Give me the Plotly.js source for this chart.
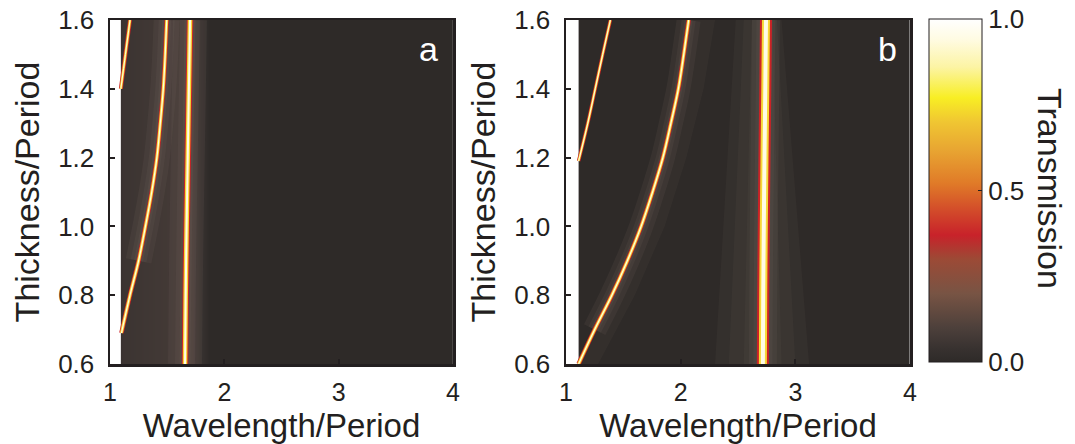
<!DOCTYPE html>
<html><head><meta charset="utf-8">
<script src="https://cdn.plot.ly/plotly-3.0.1.min.js"></script>
<style>html,body{margin:0;padding:0;background:#fff}</style>
</head><body><div id="chart" style="width:1075px;height:444px"></div>
<script>
// ---- Data ----
const xTicks = [1, 2, 3, 4];
const yTicks = [0.6, 0.8, 1.0, 1.2, 1.4, 1.6];
const cbTicks = [0, 0.5, 1.0];
const cbTickText = ['0.0', '0.5', '1.0'];

// Background transmission level (wavelength samples; the white strip at left is outside the data)
const aBgWave = [1.10, 1.11, 1.50, 1.72, 1.87, 4.0];
const aBgT = [[0.045, 0.050, 0.070, 0.085, 0.0, 0.0],   // thickness 0.6
              [0.045, 0.050, 0.070, 0.080, 0.0, 0.0]];  // thickness 1.6
const bgThick = [0.6, 1.6];
const bBgWaveEdges = [1.11, 4.0];
const bBgThickEdges = [0.6, 1.6];
const bBgT = [[0.0]];

// Panel a resonance curves: thickness/period -> wavelength/period
const a1_t = [1.40, 1.50, 1.60];
const a1_w = [1.095, 1.135, 1.175];
const a2_t = [0.69, 0.80, 0.90, 1.00, 1.10, 1.20, 1.30, 1.40, 1.50, 1.60];
const a2_w = [1.10, 1.175, 1.25, 1.31, 1.365, 1.41, 1.44, 1.466, 1.483, 1.496];
const a3_t = [0.60, 0.80, 1.00, 1.20, 1.40, 1.60];
const a3_w = [1.656, 1.662, 1.670, 1.680, 1.690, 1.700];

// Panel b resonance curves
const b1_t = [1.19, 1.30, 1.40, 1.50, 1.60];
const b1_w = [1.11, 1.19, 1.255, 1.32, 1.387];
const b2_t = [0.60, 0.70, 0.80, 0.90, 1.00, 1.10, 1.20, 1.30, 1.40, 1.50, 1.60];
const b2_w = [1.11, 1.25, 1.40, 1.535, 1.655, 1.755, 1.845, 1.915, 1.98, 2.027, 2.07];
const b3_t = [0.60, 0.80, 1.00, 1.20, 1.40, 1.60];
const b3_w = [2.717, 2.720, 2.725, 2.731, 2.738, 2.744];

// Lighter band on the long-wavelength side of the b2 mode (outer edge)
const b2band_t = [1.60, 1.40, 1.20, 1.00, 0.80, 0.60];
const b2band_w = [2.30, 2.20, 2.05, 1.86, 1.60, 1.28];

// Faint glow cones around the vertical mode in panel b (outer -> inner)
const b3cone1_w = [2.30, 3.12, 2.88, 2.48, 2.30];
const b3cone2_w = [2.42, 3.00, 2.84, 2.55, 2.42];
const b3cone3_w = [2.55, 2.88, 2.80, 2.62, 2.55];
const b3cone_t = [0.60, 0.60, 1.60, 1.60, 0.60];

// ---- Styling ----
const colorscale = [
  [0.00, '#2e2a28'], [0.04, '#383230'], [0.10, '#4d403b'], [0.20, '#785444'],
  [0.30, '#9c4a36'], [0.37, '#c8222a'], [0.44, '#d24a2a'], [0.52, '#e07a28'],
  [0.62, '#e8a632'], [0.70, '#f0c632'], [0.77, '#f8ee24'], [0.86, '#fcf4a4'],
  [0.94, '#fffbe2'], [1.00, '#ffffff']
];
const FONT = 'Liberation Sans, Arial, Helvetica, sans-serif';
const ink = '#231f20';
const glowCol = 'rgba(125,110,102,0.13)';

function lineTrace(xs, ys, xa, ya, width, color) {
  return {x: xs, y: ys, xaxis: xa, yaxis: ya, type: 'scatter', mode: 'lines',
    hoverinfo: 'skip', showlegend: false,
    line: {shape: 'spline', smoothing: 1, width: width, color: color}};
}
function glow(xs, ys, xa, ya, widths) {
  return widths.map(w => lineTrace(xs, ys, xa, ya, w, glowCol));
}
function mode(xs, ys, xa, ya, w) {
  return [
    lineTrace(xs, ys, xa, ya, w[0], '#cc2226'),
    lineTrace(xs, ys, xa, ya, w[1], '#f6d836'),
    lineTrace(xs, ys, xa, ya, w[2], '#fffbe6')
  ];
}
function poly(xs, ys, xa, ya, alpha, shape) {
  return {type: 'scatter', x: xs, y: ys, xaxis: xa, yaxis: ya, mode: 'lines',
    fill: 'toself', fillcolor: 'rgba(125,110,102,' + alpha + ')', line: {width: 0, shape: shape},
    hoverinfo: 'skip', showlegend: false};
}

const traces = [];
traces.push({type: 'heatmap', x: aBgWave, y: bgThick, z: aBgT, xaxis: 'x', yaxis: 'y', zsmooth: 'best',
  colorscale: colorscale, zmin: 0, zmax: 1, showscale: false, hoverinfo: 'skip'});
traces.push({type: 'heatmap', x: bBgWaveEdges, y: bBgThickEdges, z: bBgT, xaxis: 'x2', yaxis: 'y2',
  colorscale: colorscale, zmin: 0, zmax: 1, hoverinfo: 'skip', showscale: true,
  colorbar: {x: 929/1075, xanchor: 'left', xpad: 0, ypad: 0, y: (444-190.5)/444, yanchor: 'middle',
    len: 343/444, lenmode: 'fraction', thickness: 53, thicknessmode: 'pixels',
    outlinewidth: 1, outlinecolor: ink, tickvals: cbTicks, ticktext: cbTickText,
    ticks: 'inside', ticklen: 4, tickcolor: ink, tickfont: {family: FONT, size: 26, color: ink}}});

traces.push(poly(b3cone1_w, b3cone_t, 'x2', 'y2', 0.09, 'linear'));
traces.push(poly(b3cone2_w, b3cone_t, 'x2', 'y2', 0.09, 'linear'));
traces.push(poly(b3cone3_w, b3cone_t, 'x2', 'y2', 0.09, 'linear'));
traces.push(poly(b2_w.concat(b2band_w), b2_t.concat(b2band_t), 'x2', 'y2', 0.08, 'linear'));

// glows (start a little above the white strip so they do not spill into it)
traces.push(...glow(a2_w.slice(2), a2_t.slice(2), 'x', 'y', [26, 16, 9]));
traces.push(...glow(a3_w, a3_t, 'x', 'y', [34, 20, 11]));
traces.push(...glow(b2_w.slice(1), b2_t.slice(1), 'x2', 'y2', [24, 14, 8]));
traces.push(...glow(b3_w, b3_t, 'x2', 'y2', [28, 19, 13]));

traces.push(...mode(a1_w, a1_t, 'x', 'y', [4, 2.5, 1]));
traces.push(...mode(a2_w, a2_t, 'x', 'y', [4.5, 3, 1.2]));
traces.push(...mode(a3_w, a3_t, 'x', 'y', [6.5, 4.5, 2]));
traces.push(...mode(b1_w, b1_t, 'x2', 'y2', [3.5, 2.2, 1]));
traces.push(...mode(b2_w, b2_t, 'x2', 'y2', [4.5, 3, 1.2]));
traces.push(...mode(b3_w, b3_t, 'x2', 'y2', [12, 8, 4]));

function xax(dom) {
  return {domain: dom, range: [1, 4], tickvals: xTicks, ticks: 'inside', ticklen: 5, tickwidth: 2,
    tickcolor: ink, showline: true, mirror: true, linewidth: 2.5, linecolor: ink, showgrid: false,
    zeroline: false, fixedrange: true, ticklabelstandoff: 4,
    tickfont: {family: FONT, size: 25, color: ink},
    title: {text: 'Wavelength/Period', font: {family: FONT, size: 33, color: ink}, standoff: 10}};
}
function yax(dom, anchor) {
  return {domain: dom, range: [0.6, 1.6], tickvals: yTicks, tickformat: '.1f', ticks: 'inside', ticklen: 5,
    tickwidth: 2, tickcolor: ink, showline: true, mirror: true, linewidth: 2.5, linecolor: ink,
    showgrid: false, zeroline: false, fixedrange: true, anchor: anchor, ticklabelstandoff: 8,
    tickfont: {family: FONT, size: 26, color: ink},
    title: {text: 'Thickness/Period', font: {family: FONT, size: 34, color: ink}, standoff: 8}};
}
const yd = [80/444, 424/444];
const layout = {
  width: 1075, height: 444, margin: {l: 0, r: 0, t: 0, b: 0},
  paper_bgcolor: '#ffffff', plot_bgcolor: '#ffffff', showlegend: false,
  font: {family: FONT, color: ink},
  xaxis: Object.assign(xax([110/1075, 453/1075]), {anchor: 'y'}),
  yaxis: yax(yd, 'x'),
  xaxis2: Object.assign(xax([566/1075, 910/1075]), {anchor: 'y2'}),
  yaxis2: yax(yd, 'x2'),
  annotations: [
    {text: 'a', x: 3.79, y: 1.515, xref: 'x', yref: 'y', showarrow: false,
      font: {family: FONT, size: 34, color: '#ffffff'}},
    {text: 'b', x: 3.8, y: 1.515, xref: 'x2', yref: 'y2', showarrow: false,
      font: {family: FONT, size: 34, color: '#ffffff'}},
    {text: 'Transmission', x: 1050/1075, y: (444-188)/444, xref: 'paper', yref: 'paper', showarrow: false,
      xanchor: 'center', yanchor: 'middle', textangle: 90, font: {family: FONT, size: 34, color: ink}}
  ]
};
Plotly.newPlot('chart', traces, layout, {staticPlot: true, displayModeBar: false});
</script></body></html>
